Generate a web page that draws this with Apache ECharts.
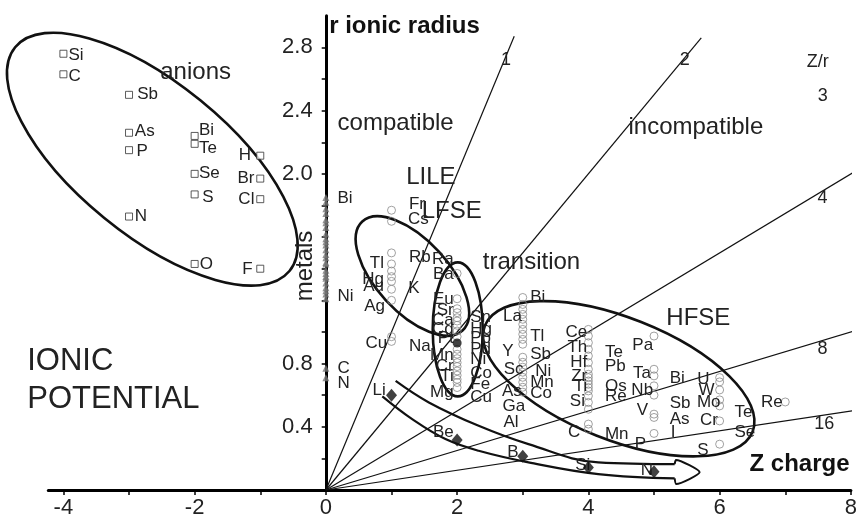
<!DOCTYPE html>
<html><head><meta charset="utf-8">
<script src="https://cdn.jsdelivr.net/npm/echarts@6/dist/echarts.min.js"></script>
<style>html,body{margin:0;padding:0;background:#fff}#c{width:860px;height:519px}</style>
</head><body><div id="c"></div>
<script>
const FONT = '"Liberation Sans", Arial, sans-serif';
// ---- data (charge Z, ionic radius r) ----
const anionPts = [['Si',-4,2.76],['C',-4,2.63],['Sb',-3,2.50],['As',-3,2.26],['P',-3,2.15],['N',-3,1.73],
  ['Bi',-2,2.24],['Te',-2,2.19],['Se',-2,2.00],['S',-2,1.87],['O',-2,1.43],
  ['H',-1,2.115],['Br',-1,1.97],['Cl',-1,1.84],['F',-1,1.40]];
const anionLabels = [['Si',-3.924,2.752,'r'],['C',-3.924,2.62,'r'],['Sb',-2.876,2.506,'r'],['As',-2.911,2.268,'r'],
  ['P',-2.885,2.142,'r'],['N',-2.911,1.732,'r'],['Bi',-1.935,2.275,'r'],['Te',-1.935,2.163,'r'],['Se',-1.935,2.006,'r'],
  ['S',-1.884,1.854,'r'],['O',-1.924,1.427,'r'],['H',-1.139,2.115,'l'],['Br',-1.089,1.97,'l'],['Cl',-1.089,1.837,'l'],['F',-1.115,1.395,'l']];
const metalRadii = [1.85,1.82,1.78,1.75,1.71,1.69,1.66,1.62,1.59,1.57,1.55,1.52,1.49,1.47,1.44,1.43,1.39,1.37,1.35,1.34,1.31,1.28,1.26,1.24,1.21,0.77,0.71];
const metalLabels = [['Bi',0.176,1.848,'r'],['Ni',0.176,1.223,'r'],['C',0.176,0.768,'r'],['N',0.176,0.675,'r']];
const cation1 = [1.77,1.70,1.50,1.43,1.385,1.35,1.32,1.27,1.20,0.97,0.94];
const cation2 = [1.37,1.21,1.147,1.122,1.09,1.069,1.042,1.006,0.97,0.89,0.859,0.831,0.806,0.781,0.753,0.726,0.70,0.68,0.648];
const cation3 = [1.218,1.174,1.143,1.111,1.08,1.048,1.016,0.985,0.953,0.922,0.84,0.808,0.777,0.745,0.713,0.682,0.65,0.619];
const cation4 = [1.016,0.974,0.932,0.89,0.848,0.806,0.764,0.732,0.711,0.69,0.669,0.648,0.627,0.595,0.554,0.511,0.417,0.385];
const cation5 = [0.974,0.764,0.722,0.659,0.60,0.48,0.459,0.358];
const cation6 = [0.711,0.684,0.633,0.57,0.532,0.437,0.29];
const cation7 = [0.557];
const highlighted = [[2,0.93]];
const cationLabels = [
 ['Fr',1.265,1.806,'r'],['Cs',1.25,1.715,'r'],['Rb',1.265,1.469,'r'],['K',1.255,1.273,'r'],['Na',1.265,0.911,'r'],
 ['Tl',0.885,1.433,'l'],['Hg',0.885,1.336,'l'],['Au',0.885,1.286,'l'],['Ag',0.90,1.164,'l'],['Cu',0.935,0.928,'l'],
 ['Ra',1.948,1.458,'l'],['Ba',1.948,1.364,'l'],['Eu',1.948,1.206,'l'],['Sr',1.948,1.138,'l'],['Ca',1.948,1.075,'l'],
 ['Cd',1.948,1.016,'l'],['Pt',1.948,0.958,'l'],['Mn',1.948,0.852,'l'],['Cr',1.948,0.785,'l'],['Ti',1.948,0.72,'l'],['Mg',1.948,0.617,'l'],
 ['Sn',2.2,1.09,'r'],['Hg',2.2,1.016,'r'],['Pb',2.2,0.958,'r'],['Pd',2.2,0.89,'r'],['Ni',2.2,0.827,'r'],['Co',2.2,0.739,'r'],['Fe',2.2,0.669,'r'],['Cu',2.2,0.585,'r'],
 ['Bi',3.113,1.217,'r'],['Tl',3.113,0.974,'r'],['Sb',3.113,0.859,'r'],['Ni',3.189,0.753,'r'],['Mn',3.113,0.68,'r'],['Co',3.113,0.612,'r'],
 ['La',2.986,1.10,'l'],['Y',2.86,0.879,'l'],['Sc',3.011,0.764,'l'],['As',2.986,0.627,'l'],['Ga',3.037,0.528,'l'],['Al',2.935,0.431,'l'],
 ['Ce',3.983,0.999,'l'],['Th',3.983,0.90,'l'],['Hf',3.983,0.806,'l'],['Zr',3.983,0.722,'l'],['Ti',3.983,0.655,'l'],['Si',3.948,0.564,'l'],['C',3.877,0.364,'l'],
 ['Te',4.252,0.869,'r'],['Pb',4.252,0.785,'r'],['Os',4.252,0.655,'r'],['Re',4.252,0.592,'r'],['Mn',4.252,0.354,'r'],
 ['Pa',4.986,0.915,'l'],['Ta',4.955,0.739,'l'],['Nb',4.986,0.633,'l'],['V',4.91,0.501,'l'],['P',4.879,0.29,'l'],
 ['Bi',5.239,0.705,'r'],['Sb',5.239,0.549,'r'],['As',5.239,0.448,'r'],['I',5.254,0.364,'r'],
 ['U',5.847,0.70,'l'],['W',5.923,0.633,'l'],['Mo',6.014,0.554,'l'],['Cr',5.973,0.444,'l'],['S',5.832,0.248,'l'],
 ['Te',6.226,0.494,'r'],['Se',6.226,0.364,'r'],['Re',6.96,0.557,'l']];
const lightPts = [['Li',1,0.60],['Be',2,0.316],['B',3,0.213],['Si',4,0.143],['N',5,0.116]];
const lightLabels = [['Li',0.911,0.633,'l'],['Be',1.948,0.368,'l'],['B',2.935,0.238,'l'],['Si',4.029,0.158,'l'],['N',4.986,0.122,'l']];
const zrRatios = [1,2,4,8,16];
const zrEndX = [2.87,5.72,8.05,8.05,8.05];
const zrLabels = [['1',2.746,2.721],['2',5.467,2.721],['Z/r',7.494,2.708],['3',7.57,2.494],['4',7.567,1.847],['8',7.567,0.893],['16',7.593,0.417]];
const xTicks = [-4,-3,-2,-1,0,1,2,3,4,5,6,7,8];
const xTickLabels = [-4,-2,0,2,4,6,8];
const yTicks = [0.2,0.4,0.6,0.8,1.0,1.2,1.4,1.6,1.8,2.0,2.2,2.4,2.6,2.8];
const yTickLabels = [0.4,0.8,2.0,2.4,2.8];
// group outlines: centre in data units
const groupEllipses = [[-2.645,2.093,177,76,39.2],[1.318,1.354,74,36,47.4],[2.009,1.016,67,25,90],[4.462,0.704,144,61,21.6]];
const arrowUpper = [[1.063,0.690],[1.569,0.554],[2.328,0.406],[3.087,0.290],[4.150,0.175],[5.315,0.164]];
const arrowLower = [[0.860,0.592],[1.315,0.448],[1.822,0.322],[2.328,0.248],[3.087,0.175],[4.150,0.101],[5.315,0.074]];
const arrowHead = [[5.315,0.164],[5.335,0.19],[5.695,0.112],[5.339,0.038],[5.315,0.074]];
const bigTexts = [['anions',-1.985,2.645,'center'],['compatible',1.063,2.317,'center'],['incompatible',5.638,2.292,'center'],
  ['LILE',1.599,1.976,'center'],['LFSE',1.918,1.761,'center'],['transition',3.133,1.439,'center'],['HFSE',5.676,1.086,'center']];

// ---- build ----
function textSeries(items, font, color, z) {
  return {type:'custom', coordinateSystem:'cartesian2d', z:z||5, clip:false, silent:true,
    data: items.map(d=>[d[1],d[2]]),
    renderItem:(params, api)=>{
      const d = items[params.dataIndex];
      const p = api.coord([api.value(0), api.value(1)]);
      const side = d[3];
      let align = side==='l'?'right':(side==='r'?'left':(side||'center'));
      return {type:'text', x:p[0], y:p[1], rotation: d[4]||0,
        style:{text:d[0], font:font, fill:color, align:align, verticalAlign:'middle'}};
    }};
}
const series = [];
zrRatios.forEach((k,i)=>{
  series.push({type:'line', data:[[0,0],[zrEndX[i], zrEndX[i]/k]], symbol:'none', silent:true,
    lineStyle:{color:'#111', width:1.2}, z:2});
});
series.push({type:'custom', coordinateSystem:'cartesian2d', z:3, silent:true, clip:false,
  data: groupEllipses.map(e=>[e[0],e[1]]),
  renderItem:(params, api)=>{
    const e = groupEllipses[params.dataIndex];
    const p = api.coord([api.value(0), api.value(1)]);
    return {type:'ellipse', x:p[0], y:p[1], rotation:-e[4]*Math.PI/180,
      shape:{cx:0, cy:0, rx:e[2], ry:e[3]}, style:{fill:null, stroke:'#111', lineWidth:2.6}};
  }});
[arrowUpper, arrowLower].forEach(a=>series.push({type:'line', data:a, smooth:0.4, symbol:'none', silent:true,
  lineStyle:{color:'#111', width:2.2}, z:3}));
series.push({type:'line', data:arrowHead, smooth:0.2, symbol:'none', silent:true, lineStyle:{color:'#111', width:2}, z:3});
series.push({type:'scatter', data:anionPts.map(d=>[d[1],d[2]]), symbol:'rect', symbolSize:7,
  itemStyle:{color:'#fff', borderColor:'#333', borderWidth:1}, z:4, silent:true});
series.push({type:'scatter', data:metalRadii.map(r=>[0,r]), symbol:'triangle', symbolSize:7,
  itemStyle:{color:'#777'}, z:4, silent:true});
const cat = [];
[cation1,cation2,cation3,cation4,cation5,cation6,cation7].forEach((arr,i)=>arr.forEach(r=>cat.push([i+1,r])));
series.push({type:'scatter', data:cat, symbol:'circle', symbolSize:8,
  itemStyle:{color:'rgba(255,255,255,0)', borderColor:'#8a8a8a', borderWidth:1}, z:4, silent:true});
series.push({type:'scatter', data:highlighted, symbol:'circle', symbolSize:9, itemStyle:{color:'#111'}, z:7, silent:true});
const elFont = '17px ' + FONT;
series.push(textSeries(anionLabels, elFont, '#222'));
series.push(textSeries(metalLabels, elFont, '#222'));
series.push(textSeries(cationLabels, elFont, '#222'));
series.push(textSeries(lightLabels, elFont, '#222'));
series.push({type:'scatter', data:lightPts.map(d=>[d[1],d[2]]), symbol:'diamond', symbolSize:[11,13],
  itemStyle:{color:'#111'}, z:8, silent:true});
series.push(textSeries(zrLabels, '18px ' + FONT, '#222'));
series.push(textSeries(bigTexts, '24px ' + FONT, '#222'));
series.push(textSeries([['IONIC',-4.551,0.814,'left'],['POTENTIAL',-4.551,0.574,'left']], '31px ' + FONT, '#222'));
series.push(textSeries([['metals',-0.307,1.417,'center',Math.PI/2]], '24px ' + FONT, '#222'));
series.push(textSeries([['r ionic radius',0.05,2.93,'left']], 'bold 24px ' + FONT, '#111'));
series.push(textSeries([['Z charge',7.98,0.164,'right']], 'bold 24px ' + FONT, '#111'));

const chart = echarts.init(document.getElementById('c'), null, {renderer:'canvas'});
chart.setOption({
  animation:false,
  grid:{left:48.3, right:6.4, top:15.8, bottom:28, containLabel:false},
  xAxis:{type:'value', min:-4.23, max:8,
    axisLine:{onZero:false, lineStyle:{color:'#000', width:3}},
    axisTick:{length:5, lineStyle:{color:'#000', width:1.5}, customValues:xTicks},
    axisLabel:{customValues:xTickLabels, fontSize:22, fontFamily:FONT, color:'#222', margin:7},
    splitLine:{show:false}},
  yAxis:{type:'value', min:0, max:3.0, position:'left', offset:-278.4,
    axisLine:{onZero:false, lineStyle:{color:'#000', width:3}},
    axisTick:{length:5, lineStyle:{color:'#000', width:1.5}, customValues:yTicks},
    axisLabel:{customValues:yTickLabels, fontSize:22, fontFamily:FONT, color:'#222', margin:14,
      formatter:v=>Number(v).toFixed(1)},
    splitLine:{show:false}},
  series: series
});
</script></body></html>
